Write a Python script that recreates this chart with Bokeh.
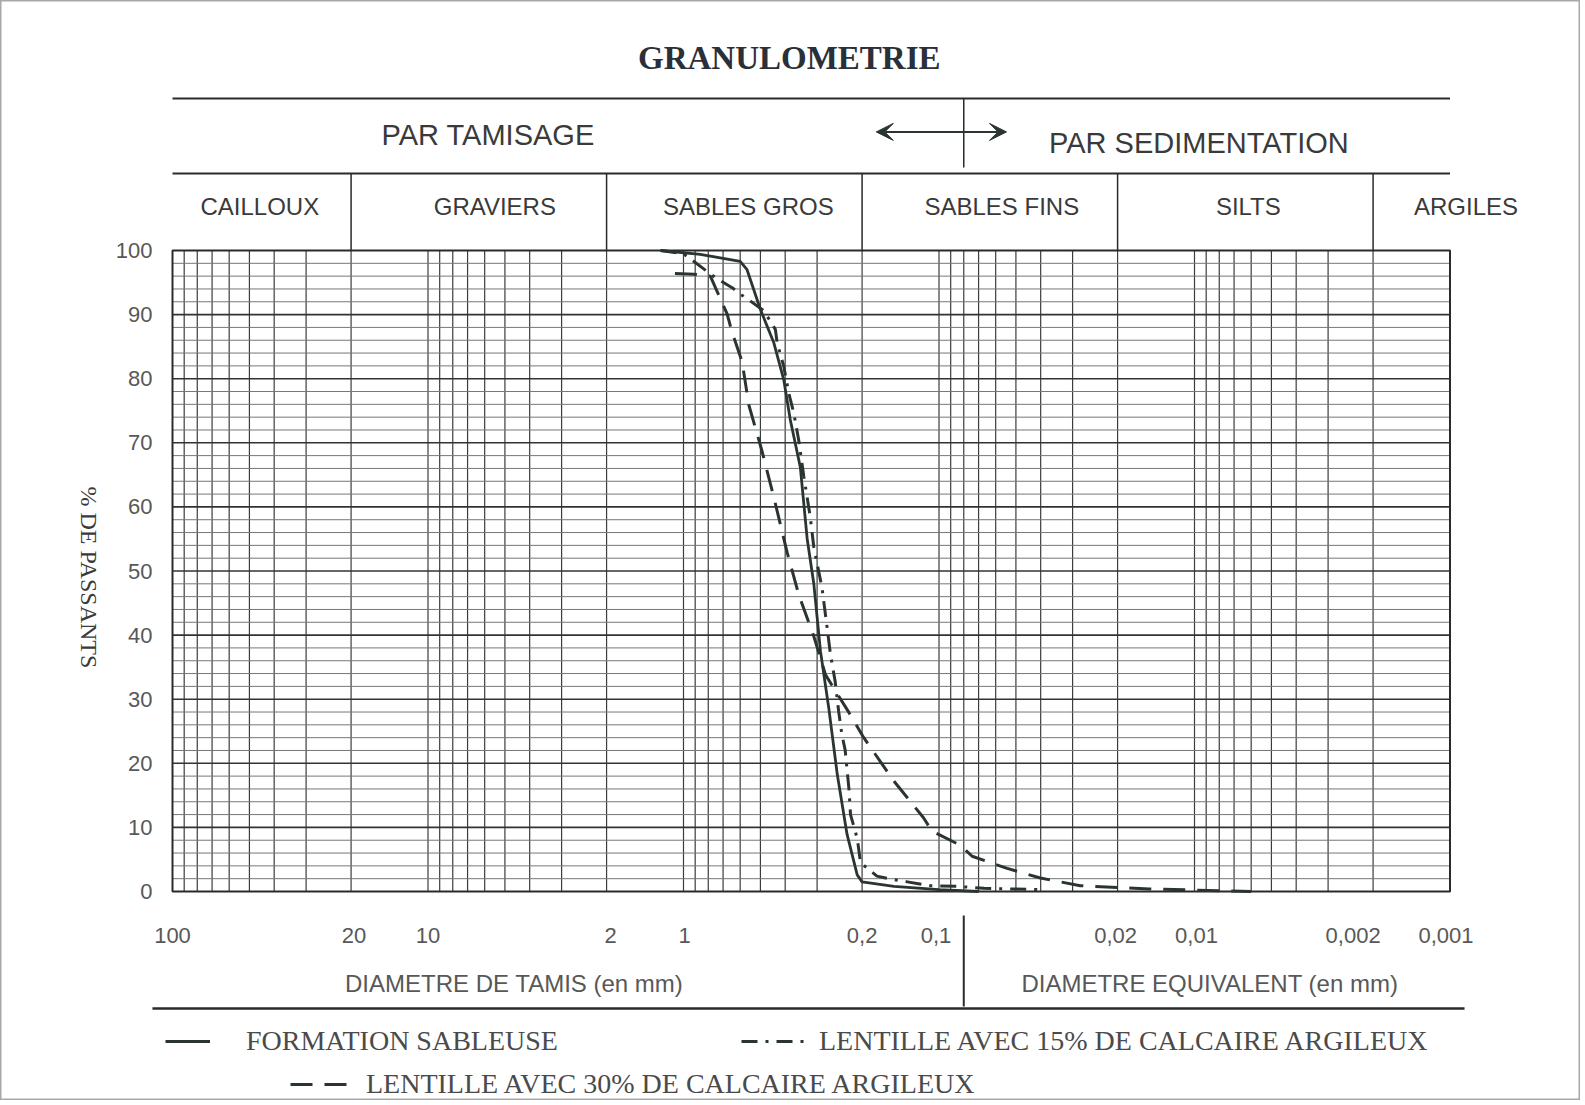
import math
from bokeh.plotting import figure
from bokeh.models import Range1d, Arrow, VeeHead, Legend, LegendItem
from bokeh.core.properties import value
from bokeh.embed import file_html
from bokeh.resources import INLINE

# ---------------- data ----------------
TITLE = "GRANULOMETRIE"
METHODS = ["PAR TAMISAGE", "PAR SEDIMENTATION"]
METHOD_LIMIT_MM = 0.08
CLASSES = ["CAILLOUX", "GRAVIERS", "SABLES GROS", "SABLES FINS", "SILTS", "ARGILES"]
CLASS_LIMITS_MM = [100, 20, 2, 0.2, 0.02, 0.002, 0.001]
X_TICKS = [100, 20, 10, 2, 1, 0.2, 0.1, 0.02, 0.01, 0.002, 0.001]
X_TICK_LABELS = ["100", "20", "10", "2", "1", "0,2", "0,1", "0,02", "0,01", "0,002", "0,001"]
Y_TICKS = [0, 10, 20, 30, 40, 50, 60, 70, 80, 90, 100]
Y_LABEL = "% DE PASSANTS"
X_LABELS = ["DIAMETRE DE TAMIS (en mm)", "DIAMETRE EQUIVALENT (en mm)"]

SERIES_NAMES = ["FORMATION SABLEUSE",
                "LENTILLE AVEC 15% DE CALCAIRE ARGILEUX",
                "LENTILLE AVEC 30% DE CALCAIRE ARGILEUX"]

sable_d = [1.23, 0.86, 0.60, 0.564, 0.50, 0.443, 0.405, 0.382, 0.349, 0.328,
           0.309, 0.291, 0.27, 0.25, 0.229, 0.209, 0.20, 0.15, 0.10, 0.07]
sable_p = [100, 99.4, 98.3, 97.0, 90.8, 85.6, 79.8, 73.6, 66.2, 55.0,
           48.0, 37.5, 28.6, 18.2, 8.9, 2.6, 1.5, 0.8, 0.3, 0.0]

calc15_d = [1.23, 1.0, 0.77, 0.717, 0.645, 0.599, 0.547, 0.485, 0.437, 0.43,
            0.405, 0.387, 0.37, 0.354, 0.338, 0.319, 0.309, 0.287, 0.274, 0.266,
            0.255, 0.247, 0.24, 0.233, 0.225, 0.222, 0.209, 0.206, 0.203, 0.175,
            0.153, 0.133, 0.108, 0.085, 0.0667, 0.0528, 0.040]
calc15_p = [100, 99.5, 96.1, 95.3, 94.2, 93.2, 92.1, 90.6, 87.7, 85.6,
            81.9, 77.7, 74.6, 70.4, 64.7, 58.4, 53.7, 47.4, 41.1, 37.0,
            32.8, 28.1, 24.5, 22.1, 15.9, 12.0, 8.3, 6.5, 4.5, 2.4,
            1.9, 1.5, 0.9, 0.8, 0.5, 0.4, 0.3]

calc30_d = [1.08, 0.91, 0.785, 0.75, 0.675, 0.645, 0.59, 0.555, 0.492, 0.443,
            0.393, 0.354, 0.309, 0.278, 0.225, 0.197, 0.15, 0.115, 0.1064, 0.0824,
            0.0742, 0.0541, 0.0401, 0.028, 0.015, 0.006]
calc30_p = [96.4, 96.3, 96.0, 94.2, 90.1, 87.2, 82.7, 75.9, 68.6, 61.5,
            52.9, 46.3, 39.8, 33.8, 27.9, 24.0, 17.2, 11.5, 9.4, 7.2,
            5.5, 3.6, 2.1, 0.9, 0.4, 0.0]

# ---------------- layout ----------------
W, H = 1580, 1100
PX_100 = 172.0      # page x of 100 mm
DEC = 255.5         # px per decade
PY_0 = 891.0        # page y of 0 %
PPCT = 6.41         # px per percent


def xd(px):
    return 10 ** (2 - (px - PX_100) / DEC)


def yd(py):
    return (PY_0 - py) / PPCT


INK = "#2b3530"
GRID = "#3c3c3c"
TXT = "#3a3a3a"
GTXT = "#585858"

p = figure(width=W, height=H, x_axis_type="log",
           x_range=Range1d(xd(0), xd(W)), y_range=Range1d(yd(H), yd(0)),
           x_axis_location=None, y_axis_location=None, min_border=0,
           toolbar_location=None, output_backend="svg",
           outline_line_color="#a8a8a8", outline_line_width=2,
           background_fill_color="white", border_fill_color="white")
p.grid.visible = False

XL, XR = CLASS_LIMITS_MM[0], CLASS_LIMITS_MM[-1]

# log-paper grid
vx = []
for n in [1, 0, -1, -2, -3]:
    for k in range(1, 10):
        vx.append(k * 10.0 ** n)
p.segment(x0=vx, y0=[0] * len(vx), x1=vx, y1=[100] * len(vx), line_color=GRID, line_width=1.2)
minor_y = [v for v in range(2, 100, 2) if v % 10]
p.segment(x0=[XL] * len(minor_y), y0=minor_y, x1=[XR] * len(minor_y), y1=minor_y,
          line_color="#777777", line_width=1)
major_y = Y_TICKS[1:-1]
p.segment(x0=[XL] * len(major_y), y0=major_y, x1=[XR] * len(major_y), y1=major_y,
          line_color="#333333", line_width=1.6)
p.quad(left=XL, right=XR, bottom=0, top=100, fill_alpha=0, line_color="#2a2a2a", line_width=2)

# header
Y_TOP = yd(98)
Y_MID = yd(173)
p.segment(x0=[XL, XL], y0=[Y_TOP, Y_MID], x1=[XR, XR], y1=[Y_TOP, Y_MID],
          line_color="#2a2a2a", line_width=2)
divs = CLASS_LIMITS_MM[1:-1]
p.segment(x0=divs, y0=[Y_MID] * len(divs), x1=divs, y1=[100] * len(divs),
          line_color="#2a2a2a", line_width=1.5)
p.segment(x0=[METHOD_LIMIT_MM], y0=[Y_TOP], x1=[METHOD_LIMIT_MM], y1=[yd(167)],
          line_color="#2a2a2a", line_width=1.5)
ya = yd(131.4)
p.add_layout(Arrow(start=VeeHead(size=17, fill_color=INK, line_color=INK),
                   end=VeeHead(size=17, fill_color=INK, line_color=INK),
                   x_start=METHOD_LIMIT_MM / 1.47, y_start=ya,
                   x_end=METHOD_LIMIT_MM * 2.2, y_end=ya,
                   line_color=INK, line_width=2))

# title
p.text(x=[math.sqrt(XL * XR)], y=[yd(57.6)], text=[TITLE], x_offset=-22,
       text_font=value("Liberation Serif"), text_font_style="bold", text_font_size="33px",
       text_align="center", text_baseline="middle", text_color="#2a2f38")

# method labels
m_centers = [math.sqrt(XL * METHOD_LIMIT_MM), math.sqrt(METHOD_LIMIT_MM * XR)]
p.text(x=m_centers, y=[yd(134.5), yd(142.5)], text=METHODS, x_offset=[-80, -8],
       text_font=value("Liberation Sans"), text_font_size="29px",
       text_align="center", text_baseline="middle", text_color=TXT)

# class labels
c_centers = [math.sqrt(CLASS_LIMITS_MM[i] * CLASS_LIMITS_MM[i + 1]) for i in range(5)] + [XR]
p.text(x=c_centers, y=[yd(205.5)] * 6, text=CLASSES, x_offset=[-2, 16, 14, 12, 3, 16],
       text_font=value("Liberation Sans"), text_font_size="24px",
       text_align="center", text_baseline="middle", text_color=TXT)

# y tick labels & y title
p.text(x=[XL] * len(Y_TICKS), y=Y_TICKS, text=[str(v) for v in Y_TICKS], x_offset=-20,
       text_font=value("Liberation Sans"), text_font_size="22px",
       text_align="right", text_baseline="middle", text_color=GTXT)
p.text(x=[XL], y=[49], text=[Y_LABEL], x_offset=-84, angle=-math.pi / 2,
       text_font=value("Liberation Serif"), text_font_size="24px",
       text_align="center", text_baseline="middle", text_color=TXT)

# x tick labels
xoff = [0, 3, 0, 4, 1, 0, -3, -2, 2, -20, -4]
p.text(x=X_TICKS, y=[yd(935)] * len(X_TICKS), text=X_TICK_LABELS, x_offset=xoff,
       text_font=value("Liberation Sans"), text_font_size="22px",
       text_align="center", text_baseline="middle", text_color=GTXT)
p.text(x=m_centers, y=[yd(982.5)] * 2, text=X_LABELS, x_offset=[-54, 3],
       text_font=value("Liberation Sans"), text_font_size="24px",
       text_align="center", text_baseline="middle", text_color=GTXT)
p.segment(x0=[METHOD_LIMIT_MM], y0=[yd(915)], x1=[METHOD_LIMIT_MM], y1=[yd(1006)],
          line_color="#2a2a2a", line_width=2)
p.segment(x0=[XL * 1.198], y0=[yd(1008)], x1=[XR / 1.14], y1=[yd(1008)],
          line_color="#2a2a2a", line_width=2.5)

# curves
r1 = p.line(sable_d, sable_p, line_color=INK, line_width=2.8)
r2 = p.line(calc15_d, calc15_p, line_color=INK, line_width=3, line_dash="16 8 3 8")
r3 = p.line(calc30_d, calc30_p, line_color=INK, line_width=3, line_dash="22 12")


# legends
def make_legend(name, r, loc, gw, standoff):
    return Legend(items=[LegendItem(label=name, renderers=[r])], location=loc,
                  orientation="horizontal", glyph_width=gw, glyph_height=32,
                  label_height=32, label_standoff=standoff, padding=0, margin=0,
                  spacing=0, border_line_alpha=0, background_fill_alpha=0,
                  label_text_font="Liberation Serif", label_text_font_size="28px",
                  label_text_color="#4a4a4a")


# location = (x, y) of legend's bottom-left, measured from the frame's bottom-left
p.add_layout(make_legend(SERIES_NAMES[0], r1, (165, H - 1041 - 16), 45, 36))
p.add_layout(make_legend(SERIES_NAMES[1], r2, (741, H - 1041 - 16), 63, 15))
p.add_layout(make_legend(SERIES_NAMES[2], r3, (290, H - 1084 - 16), 61, 15))

open("out.html", "w").write(file_html(p, INLINE))
